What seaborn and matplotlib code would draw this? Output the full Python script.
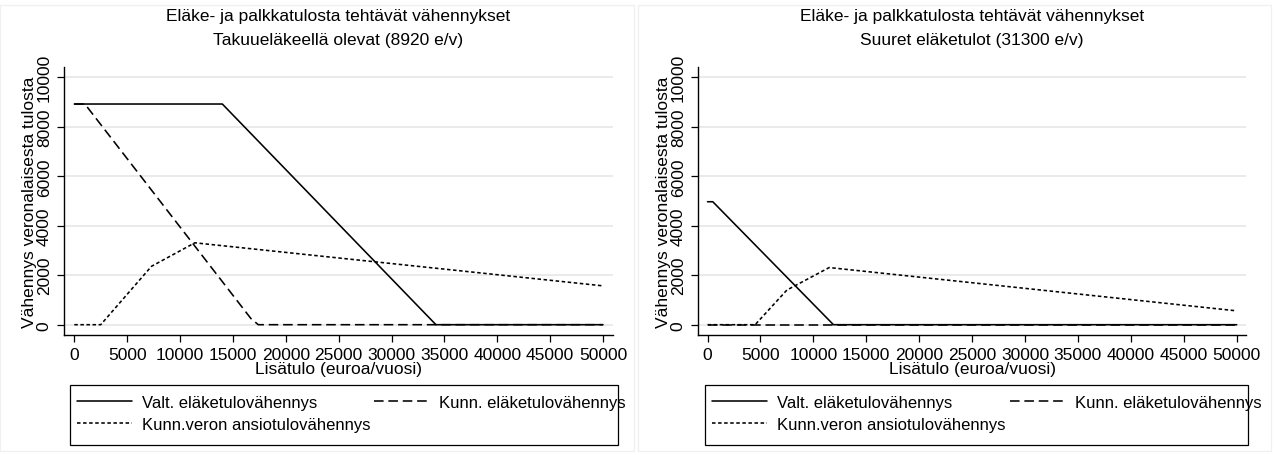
import numpy as np
import pandas as pd
import matplotlib
matplotlib.use("Agg")
import matplotlib.pyplot as plt
from matplotlib.lines import Line2D
from matplotlib.patches import Rectangle
import seaborn as sns

# Data (breakpoints of each piecewise-linear curve)
TITLE = "Eläke- ja palkkatulosta tehtävät vähennykset"
SUBTITLES = ["Takuueläkeellä olevat (8920 e/v)", "Suuret eläketulot (31300 e/v)"]
SERIES_NAMES = ["Valt. eläketulovähennys", "Kunn. eläketulovähennys",
                "Kunn.veron ansiotulovähennys"]

left_x_valt = [0, 14000, 34200, 50000]
left_valt = [8920, 8920, 0, 0]
left_x_kunn = [0, 1000, 16700, 17400, 50000]
left_kunn = [8920, 8920, 250, 0, 0]
left_x_ansio = [0, 2500, 7300, 11400, 50000]
left_ansio = [0, 0, 2360, 3310, 1570]

right_x_valt = [0, 500, 11900, 50000]
right_valt = [4970, 4970, 0, 0]
right_x_kunn = [0, 50000]
right_kunn = [0, 0]
right_x_ansio = [0, 4500, 7500, 11500, 50000]
right_ansio = [0, 0, 1400, 2310, 560]

x_ticks = list(range(0, 50001, 5000))
y_ticks = list(range(0, 10001, 2000))

W, H = 1274, 456
sns.set_theme(style="white")
plt.rcParams['font.family'] = ['Liberation Sans', 'DejaVu Sans']
plt.rcParams.update({"text.color": "black", "axes.labelcolor": "black",
                     "xtick.color": "black", "ytick.color": "black"})
FS = 12.5
LEG_FS = 12

fig = plt.figure(figsize=(W / 100, H / 100), dpi=100)


def px_box(left, top, right, bottom):
    return [left / W, 1 - bottom / H, (right - left) / W, (bottom - top) / H]


styles = {
    SERIES_NAMES[0]: dict(linestyle="-"),
    SERIES_NAMES[1]: dict(linestyle=(0, (6, 3))),
    SERIES_NAMES[2]: dict(linestyle=(0, (2.2, 1.6))),
}

panels = [
    dict(box=(64.3, 68.3, 612.7, 336), x0=74.3, x50=603.0,
         data=[(left_x_valt, left_valt), (left_x_kunn, left_kunn),
               (left_x_ansio, left_ansio)],
         leg=(70, 386, 618, 446), col1=77, col2=374, frame=(0, 6, 634, 452)),
    dict(box=(698.3, 68.3, 1246, 336), x0=707.5, x50=1236.7,
         data=[(right_x_valt, right_valt), (right_x_kunn, right_kunn),
               (right_x_ansio, right_ansio)],
         leg=(705, 386, 1248, 446), col1=712, col2=1010, frame=(638, 6, 1271, 452)),
]

y0_px, y10k_px = 325.7, 78.3

for p, sub in zip(panels, SUBTITLES):
    l, t, r, b = p["box"]
    ax = fig.add_axes(px_box(l, t, r, b))
    # map pixel edges to data limits
    sx = (p["x50"] - p["x0"]) / 50000
    sy = (y0_px - y10k_px) / 10000
    ax.set_xlim((l - p["x0"]) / sx, (r - p["x0"]) / sx)
    ax.set_ylim((y0_px - b) / sy, (y0_px - t) / sy)

    for yy in y_ticks:
        ax.axhline(yy, color="#e6e6e6", lw=1.2, zorder=0)

    # draw order: dashed, dotted, solid on top
    for idx in [1, 2, 0]:
        xs, ys = p["data"][idx]
        df = pd.DataFrame({"x": xs, "y": ys})
        sns.lineplot(data=df, x="x", y="y", ax=ax, color="black", lw=1.15,
                     estimator=None, sort=False, zorder=3,
                     **styles[SERIES_NAMES[idx]])

    ax.set_xticks(x_ticks)
    ax.set_yticks(y_ticks)
    ax.set_xticklabels([str(v) for v in x_ticks], fontsize=FS)
    ax.set_yticklabels([str(v) for v in y_ticks], fontsize=FS,
                       rotation=90, va="center")
    ax.tick_params(axis="both", direction="out", length=5, width=0.9,
                   color="black", labelcolor="black", pad=4, bottom=True, left=True)
    for s in ["top", "right"]:
        ax.spines[s].set_visible(False)
    for s in ["left", "bottom"]:
        ax.spines[s].set_color("black")
        ax.spines[s].set_linewidth(1.0)
    ax.set_xlabel("Lisätulo (euroa/vuosi)", fontsize=FS, labelpad=-1)
    ax.set_ylabel("Vähennys veronalaisesta tulosta", fontsize=FS, labelpad=0)

    cx = (l + r) / 2
    fig.text(cx / W, 1 - 17 / H, TITLE, ha="center", va="center", fontsize=FS)
    fig.text(cx / W, 1 - 41 / H, sub, ha="center", va="center", fontsize=FS)

    # legend: frame drawn separately, columns overlap like the reference
    handles = [Line2D([], [], color="black", lw=1.15, **styles[n]) for n in SERIES_NAMES]
    ll, lt, lr, lb = p["leg"]
    fig.add_artist(Rectangle((ll / W, 1 - lb / H), (lr - ll) / W, (lb - lt) / H,
                             transform=fig.transFigure, fill=False,
                             edgecolor="black", lw=0.9, zorder=1))
    common = dict(loc="upper left", fontsize=LEG_FS, frameon=False, borderpad=0,
                  borderaxespad=0, handlelength=3.3, handletextpad=0.6,
                  labelspacing=0.4, labelcolor="black")
    top = 1 - (lt + 10) / H
    leg1 = fig.legend([handles[0], handles[2]], [SERIES_NAMES[0], SERIES_NAMES[2]],
                      bbox_to_anchor=(p["col1"] / W, top), **common)
    leg2 = fig.legend([handles[1]], [SERIES_NAMES[1]],
                      bbox_to_anchor=(p["col2"] / W, top), **common)

    fl, ft, fr, fb = p["frame"]
    fig.add_artist(Rectangle((fl / W, 1 - fb / H), (fr - fl) / W, (fb - ft) / H,
                             transform=fig.transFigure, fill=False,
                             edgecolor="#f0f0f0", lw=1.0, zorder=0))

fig.savefig("out.png", dpi=100, facecolor="white")
